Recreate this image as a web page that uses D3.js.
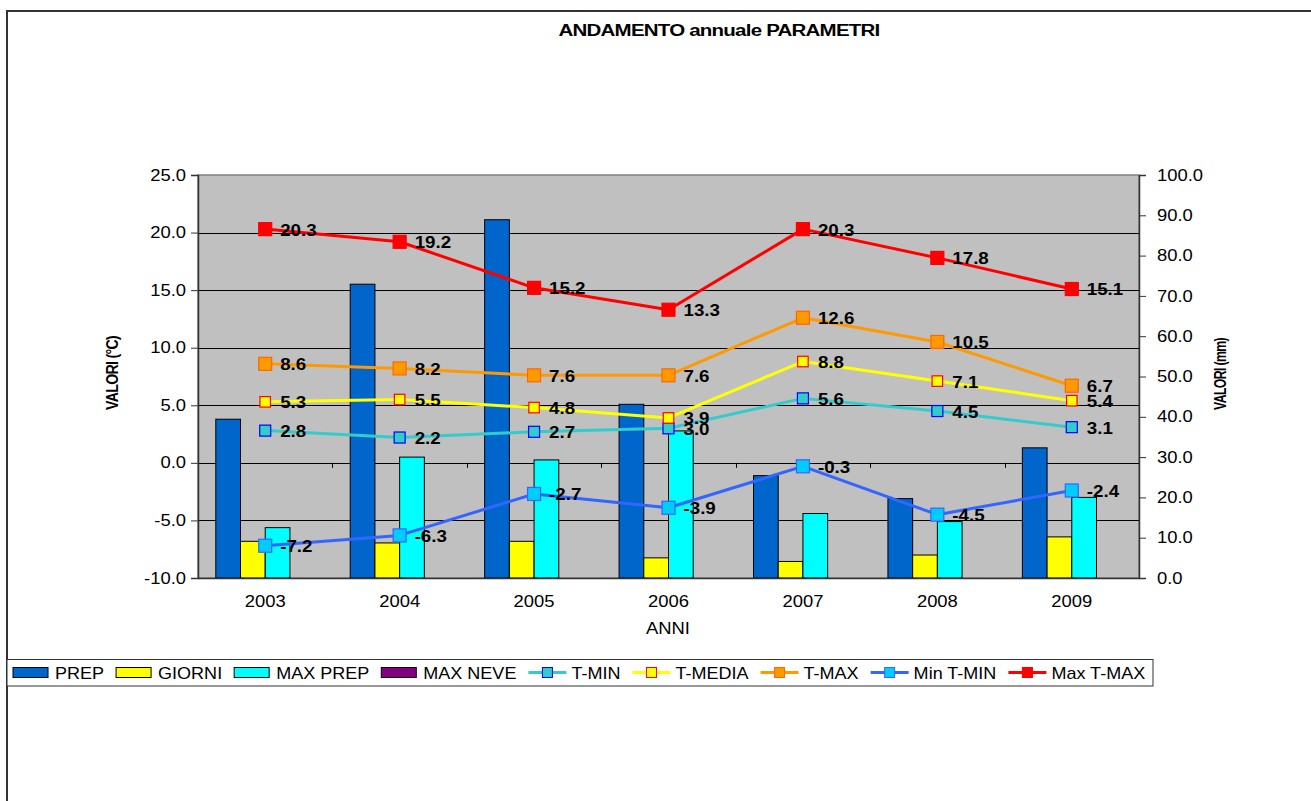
<!DOCTYPE html>
<html><head><meta charset="utf-8">
<script src="https://cdn.jsdelivr.net/npm/d3@7/dist/d3.min.js"></script>
<style>
html,body{margin:0;padding:0;background:#fff;}
svg{display:block;}
text{font-family:"Liberation Sans",Arial,sans-serif;}
</style></head>
<body>
<svg id="chart" width="1311" height="801"></svg>
<script>
// ---- data ----
const years = ["2003","2004","2005","2006","2007","2008","2009"];
const prep    = [39.4, 72.9, 88.9, 43.1, 25.4, 19.7, 32.3];
const giorni  = [9.1, 8.7, 9.1, 5.0, 4.1, 5.7, 10.2];
const maxPrep = [12.5, 30.0, 29.3, 36.5, 16.0, 14.0, 20.0];
const maxNeve = [0, 0, 0, 0, 0, 0, 0];
const tMin    = [2.8, 2.2, 2.7, 3.0, 5.6, 4.5, 3.1];
const tMedia  = [5.3, 5.5, 4.8, 3.9, 8.8, 7.1, 5.4];
const tMax    = [8.6, 8.2, 7.6, 7.6, 12.6, 10.5, 6.7];
const minTMin = [-7.2, -6.3, -2.7, -3.9, -0.3, -4.5, -2.4];
const maxTMax = [20.3, 19.2, 15.2, 13.3, 20.3, 17.8, 15.1];
const leftTicks  = [-10, -5, 0, 5, 10, 15, 20, 25];
const rightTicks = [0, 10, 20, 30, 40, 50, 60, 70, 80, 90, 100];

const barSeries = [
  {name:"PREP", values:prep, color:"#0066CC"},
  {name:"GIORNI", values:giorni, color:"#FFFF00"},
  {name:"MAX PREP", values:maxPrep, color:"#00FFFF"},
  {name:"MAX NEVE", values:maxNeve, color:"#800080"}
];
const lineSeries = [
  {name:"T-MIN", values:tMin, line:"#33CCCC", fill:"#33CCCC", stroke:"#0000FF", size:11},
  {name:"T-MEDIA", values:tMedia, line:"#FFFF00", fill:"#FFFF00", stroke:"#FF0000", size:10.5},
  {name:"T-MAX", values:tMax, line:"#FF9900", fill:"#FF9900", stroke:"#FF6600", size:13},
  {name:"Min T-MIN", values:minTMin, line:"#3366FF", fill:"#00CCFF", stroke:"#3366FF", size:13},
  {name:"Max T-MAX", values:maxTMax, line:"#FF0000", fill:"#FF0000", stroke:"#FF0000", size:13}
];
const fmt = d => (+d).toFixed(1);

// ---- layout ----
const P = {left:198, right:1139, top:175, bottom:578};
const svg = d3.select("#chart");
function stretch(sel, k){
  sel.each(function(){
    const w = this.getComputedTextLength();
    d3.select(this).attr("textLength", w*k).attr("lengthAdjust","spacingAndGlyphs");
  });
}

const x0 = d3.scaleBand().domain(years).range([P.left, P.right]).padding(0);
const x1 = d3.scaleBand().domain(barSeries.map(d=>d.name)).range([0, x0.bandwidth()]).paddingInner(0).paddingOuter(0.72);
const yL = d3.scaleLinear().domain([-10, 25]).range([P.bottom, P.top]);
const yR = d3.scaleLinear().domain([0, 100]).range([P.bottom, P.top]);

svg.append("rect").attr("width",1311).attr("height",801).attr("fill","#fff");
svg.append("path").attr("d","M7,801V11H1311").attr("fill","none").attr("stroke","#333").attr("stroke-width",2);

// title
svg.append("text").attr("x",719).attr("y",36).attr("text-anchor","middle")
  .attr("font-size",16).attr("font-weight","bold").attr("letter-spacing",-0.6).text("ANDAMENTO annuale PARAMETRI")
  .attr("textLength",321).attr("lengthAdjust","spacingAndGlyphs");

// plot background
svg.append("rect").attr("x",P.left).attr("y",P.top).attr("width",P.right-P.left).attr("height",P.bottom-P.top)
  .attr("fill","#C0C0C0").attr("stroke","#808080").attr("stroke-width",1.5);

// gridlines
svg.append("g").selectAll("line").data(leftTicks.filter(t=>t>-10 && t<25)).join("line")
  .attr("x1",P.left).attr("x2",P.right).attr("y1",d=>Math.round(yL(d))+0.5).attr("y2",d=>Math.round(yL(d))+0.5)
  .attr("stroke","#000").attr("stroke-width",1);

// bars
const gBars = svg.append("g");
years.forEach((yr,i)=>{
  barSeries.forEach(s=>{
    const v = s.values[i];
    if (v <= 0) return;
    gBars.append("rect")
      .attr("x", x0(yr)+x1(s.name)).attr("width", x1.bandwidth())
      .attr("y", yR(v)).attr("height", yR(0)-yR(v))
      .attr("fill", s.color).attr("stroke","#000").attr("stroke-width",1);
  });
});

// category tick marks on zero line
svg.append("g").selectAll("line").data(years.slice(1)).join("line")
  .attr("x1",d=>Math.round(x0(d))+0.5).attr("x2",d=>Math.round(x0(d))+0.5)
  .attr("y1",yL(0)).attr("y2",yL(0)+5).attr("stroke","#000");

// left axis
const axL = svg.append("g").attr("transform",`translate(${P.left},0)`)
  .call(d3.axisLeft(yL).tickValues(leftTicks).tickFormat(fmt).tickSize(7).tickPadding(5));
axL.select(".domain").attr("stroke","#333").attr("stroke-width",1.5);
axL.selectAll(".tick line").attr("stroke","#333");
axL.selectAll("text").attr("font-size",16).attr("fill","#000").attr("font-family","Liberation Sans, Arial").call(stretch,1.15);

// right axis
const axR = svg.append("g").attr("transform",`translate(${P.right},0)`)
  .call(d3.axisRight(yR).tickValues(rightTicks).tickFormat(fmt).tickSize(7).tickPadding(11));
axR.select(".domain").attr("stroke","#333").attr("stroke-width",1.5);
axR.selectAll(".tick line").attr("stroke","#333");
axR.selectAll("text").attr("font-size",16).attr("fill","#000").attr("font-family","Liberation Sans, Arial").call(stretch,1.15);

// bottom axis labels
const axB = svg.append("g").attr("transform",`translate(0,${P.bottom})`)
  .call(d3.axisBottom(x0).tickSize(0).tickPadding(18));
axB.select(".domain").attr("stroke","#333").attr("stroke-width",1.5);
axB.selectAll("text").attr("font-size",16).attr("fill","#000").attr("font-family","Liberation Sans, Arial").call(stretch,1.15);

// axis titles
svg.append("text").attr("x",668).attr("y",634).attr("text-anchor","middle").attr("font-size",16).text("ANNI").call(stretch,1.15);
svg.append("text").attr("transform","translate(118,373) rotate(-90)").attr("text-anchor","middle")
  .attr("font-size",16).attr("font-weight","bold").attr("letter-spacing",-0.8).text("VALORI (°C)").attr("textLength",74).attr("lengthAdjust","spacingAndGlyphs");
svg.append("text").attr("transform","translate(1226,374) rotate(-90)").attr("text-anchor","middle")
  .attr("font-size",16).attr("font-weight","bold").attr("letter-spacing",-0.8).text("VALORI (mm)").attr("textLength",72).attr("lengthAdjust","spacingAndGlyphs");

// lines
const cx = i => x0(years[i]) + x0.bandwidth()/2;
const gLines = svg.append("g");
lineSeries.forEach(s=>{
  const line = d3.line().x((d,i)=>cx(i)).y(d=>yL(d));
  gLines.append("path").datum(s.values).attr("d",line).attr("fill","none")
    .attr("stroke",s.line).attr("stroke-width",3).attr("stroke-linejoin","round");
});
lineSeries.forEach(s=>{
  gLines.append("g").selectAll("rect").data(s.values).join("rect")
    .attr("x",(d,i)=>cx(i)-s.size/2).attr("y",d=>yL(d)-s.size/2)
    .attr("width",s.size).attr("height",s.size)
    .attr("fill",s.fill).attr("stroke",s.stroke).attr("stroke-width",1.2);
});
// data labels
lineSeries.forEach(s=>{
  gLines.append("g").selectAll("text").data(s.values).join("text")
    .attr("x",(d,i)=>cx(i)+15).attr("y",d=>yL(d)+6.5)
    .attr("font-size",16).attr("font-weight","bold").attr("fill","#000")
    .text(fmt).call(stretch,1.17);
});

// legend
const lg = svg.append("g");
lg.append("rect").attr("x",7).attr("y",659.5).attr("width",1146).attr("height",26.5)
  .attr("fill","#fff").attr("stroke","#333").attr("stroke-width",1);
let lx = 13;
const ly = 672.5;
const items = barSeries.map(s=>({type:"bar", s})).concat(lineSeries.map(s=>({type:"line", s})));
items.forEach(it=>{
  if (it.type==="bar"){
    lg.append("rect").attr("x",lx).attr("y",ly-5).attr("width",35).attr("height",10)
      .attr("fill",it.s.color).attr("stroke","#000").attr("stroke-width",1);
    lx += 35 + 7;
  } else {
    lg.append("line").attr("x1",lx).attr("x2",lx+38).attr("y1",ly).attr("y2",ly)
      .attr("stroke",it.s.line).attr("stroke-width",3);
    lg.append("rect").attr("x",lx+19-5).attr("y",ly-5).attr("width",10).attr("height",10)
      .attr("fill",it.s.fill).attr("stroke",it.s.stroke).attr("stroke-width",1);
    lx += 38 + 5;
  }
  const t = lg.append("text").attr("x",lx).attr("y",ly+6).attr("font-size",17).attr("fill","#000").text(it.s.name);
  t.call(stretch,1.06);
  lx += +t.attr("textLength") + 12;
});
</script>
</body></html>
